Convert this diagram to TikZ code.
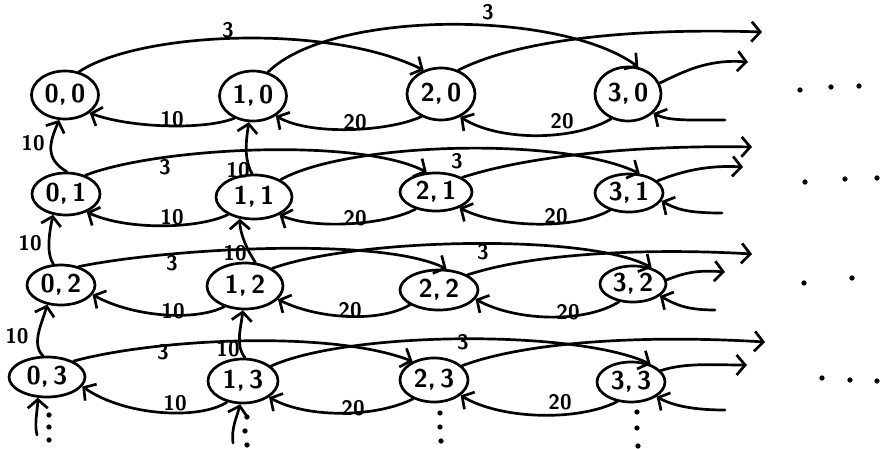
\documentclass[tikz,border=0pt]{standalone}
\usetikzlibrary{shapes.geometric,arrows.meta}
\tikzset{
  st/.style={ellipse, draw, line width=2.3pt, inner sep=0pt,
    font=\fontsize{22}{24}\selectfont\sffamily\bfseries},
  sz/.style 2 args={minimum width=#1*0.03cm, minimum height=#2*0.03cm},
  lab/.style={inner sep=0pt, font=\fontsize{18}{20}\selectfont\sffamily\bfseries},
  ed/.style={line width=2.3pt, -{Straight Barb[length=2.6mm,width=6mm]}},
  dt/.style={circle, fill, inner sep=0pt, minimum size=4.5pt},
}
\begin{document}
\begin{tikzpicture}[x=0.03cm,y=-0.03cm,line cap=round,line join=round]
\useasboundingbox (0,0) rectangle (886,449);
% states
\node[st,sz={67}{48}] (n00) at (65,95) {0,\,0};
\node[st,sz={67}{50}] (n10) at (253,96) {1,\,0};
\node[st,sz={68}{52}] (n20) at (441,94) {2,\,0};
\node[st,sz={66}{54}] (n30) at (628,94) {3,\,0};
\node[st,sz={68}{42}] (n01) at (66,194) {0,\,1};
\node[st,sz={76}{44}] (n11) at (254,197) {1,\,1};
\node[st,sz={72}{38}] (n21) at (436,192) {2,\,1};
\node[st,sz={68}{38}] (n31) at (629,193) {3,\,1};
\node[st,sz={68}{40}] (n02) at (61,285) {0,\,2};
\node[st,sz={76}{46}] (n12) at (245,286) {1,\,2};
\node[st,sz={78}{40}] (n22) at (439,290) {2,\,2};
\node[st,sz={66}{36}] (n32) at (633,284) {3,\,2};
\node[st,sz={76}{40}] (n03) at (47,377) {0,\,3};
\node[st,sz={70}{44}] (n13) at (243,381) {1,\,3};
\node[st,sz={68}{44}] (n23) at (434,380) {2,\,3};
\node[st,sz={68}{40}] (n33) at (631,382) {3,\,3};
% free ends
\coordinate (f0a) at (762,32);  \coordinate (f0b) at (748,62);  \coordinate (g0) at (725,120);
\coordinate (f1a) at (752,147); \coordinate (f1b) at (743,167); \coordinate (g1) at (722,213);
\coordinate (f2a) at (752,254); \coordinate (f2b) at (725,272); \coordinate (g2) at (715,310);
\coordinate (f3a) at (765,342); \coordinate (f3b) at (747,365); \coordinate (g3) at (725,410);
\coordinate (b0) at (37,435); \coordinate (b1) at (233,443);
% row 0
\draw[ed] (n00.59) .. controls +(60,-40) and +(-95,-47) .. (n20.126);
\draw[ed] (n10.58) .. controls +(62,-62) and +(-80,-58) .. (n30.69);
\draw[ed] (n20.54) .. controls +(63,-32) and +(-122,-4) .. (f0a);
\draw[ed] (n30.19) .. controls +(25,-12) and +(-40,-3) .. (f0b);
\draw[ed] (g0) .. controls +(-35,0) and +(15,8) .. (n30.-37);
\draw[ed] (n10.230) .. controls +(-30,12) and +(40,15) .. (n00.-36);
\draw[ed] (n20.229) .. controls +(-33,15) and +(35,20) .. (n10.-41);
\draw[ed] (n30.236) .. controls +(-37,22) and +(40,25) .. (n20.-50);
\draw[ed] (n01.88) .. controls +(-22,-13) and +(-10,23) .. (n00.257);
\draw[ed] (n11.95) .. controls +(-8,-15) and +(-3,20) .. (n10.261);
% row 1
\draw[ed] (n01.44) .. controls +(72,-28) and +(-68,-35) .. (n21.115);
\draw[ed] (n11.33) .. controls +(65,-37) and +(-80,-38) .. (n31.61);
\draw[ed] (n21.29) .. controls +(67,-22) and +(-112,-2) .. (f1a);
\draw[ed] (n31.23) .. controls +(25,-10) and +(-35,-2) .. (f1b);
\draw[ed] (g1) .. controls +(-35,0) and +(15,8) .. (n31.-14);
\draw[ed] (n11.214) .. controls +(-28,14) and +(42,19) .. (n01.-41);
\draw[ed] (n21.220) .. controls +(-30,16) and +(35,15) .. (n11.-35);
\draw[ed] (n31.222) .. controls +(-35,20) and +(40,20) .. (n21.-34);
\draw[ed] (n02.110) .. controls +(-8,-12) and +(-3,15) .. (n01.238);
\draw[ed] (n12.66) .. controls +(-8,-12) and +(0,15) .. (n11.237);
% row 2
\draw[ed] (n02.46) .. controls +(88,-18) and +(-67,-33) .. (n22.70);
\draw[ed] (n12.33) .. controls +(83,-30) and +(-65,-35) .. (n32.41);
\draw[ed] (n22.28) .. controls +(67,-22) and +(-102,-6) .. (f2a);
\draw[ed] (n32.7) .. controls +(20,-8) and +(-25,-2) .. (f2b);
\draw[ed] (g2) .. controls +(-30,0) and +(15,8) .. (n32.-24);
\draw[ed] (n12.225) .. controls +(-30,15) and +(40,22) .. (n02.-17);
\draw[ed] (n22.207) .. controls +(-30,18) and +(40,20) .. (n12.-22);
\draw[ed] (n32.232) .. controls +(-35,22) and +(40,22) .. (n22.-14);
\draw[ed] (n03.101) .. controls +(-12,-12) and +(-5,18) .. (n02.235);
\draw[ed] (n13.85) .. controls +(-10,-12) and +(-2,18) .. (n12.265);
% row 3
\draw[ed] (n03.31) .. controls +(80,-22) and +(-83,-32) .. (n23.139);
\draw[ed] (n13.28) .. controls +(77,-35) and +(-75,-35) .. (n33.42);
\draw[ed] (n23.27) .. controls +(67,-25) and +(-115,-7) .. (f3a);
\draw[ed] (n33.21) .. controls +(25,-8) and +(-35,0) .. (f3b);
\draw[ed] (g3) .. controls +(-35,0) and +(15,8) .. (n33.-30);
\draw[ed] (n13.233) .. controls +(-27,18) and +(43,30) .. (n03.-15);
\draw[ed] (n23.222) .. controls +(-35,18) and +(40,22) .. (n13.-32);
\draw[ed] (n33.235) .. controls +(-40,20) and +(40,24) .. (n23.-30);
\draw[ed] (b0) .. controls +(-3,-12) and +(0,12) .. (n03.246);
\draw[ed] (b1) .. controls +(-2,-15) and +(-3,12) .. (n13.263);
% labels
\node[lab] (l01) at (228,30) {3};
\node[lab] (l02) at (488,12) {3};
\node[lab] (l03) at (172,119) {10};
\node[lab] (l04) at (355,122) {20};
\node[lab] (l05) at (562,121) {20};
\node[lab] (l06) at (33,143) {10};
\node[lab] (l07) at (238,170) {10};
\node[lab] (l11) at (165,167) {3};
\node[lab] (l12) at (457,161) {3};
\node[lab] (l13) at (172,217) {10};
\node[lab] (l14) at (355,218) {20};
\node[lab] (l15) at (556,216) {20};
\node[lab] (l16) at (30,243) {10};
\node[lab] (l17) at (235,253) {10};
\node[lab] (l21) at (172,263) {3};
\node[lab] (l22) at (483,252) {3};
\node[lab] (l23) at (173,311) {10};
\node[lab] (l24) at (350,310) {20};
\node[lab] (l25) at (568,312) {20};
\node[lab] (l26) at (17,336) {10};
\node[lab] (l27) at (228,349) {10};
\node[lab] (l31) at (163,352) {3};
\node[lab] (l32) at (463,342) {3};
\node[lab] (l33) at (175,403) {10};
\node[lab] (l34) at (353,408) {20};
\node[lab] (l35) at (560,402) {20};
% dots
\foreach \p [count=\i] in {(800,90),(831,87),(859,86),(805,182),(845,179),(877,178),
  (804,283),(852,278),(822,378),(850,380),(877,381),
  (49,415),(49,427),(49,440),(247,417),(245,431),(247,445),
  (440,413),(440,427),(441,441),(637,412),(637,428),(638,446)}
  \node[dt] (d\i) at \p {};
\end{tikzpicture}
\end{document}
